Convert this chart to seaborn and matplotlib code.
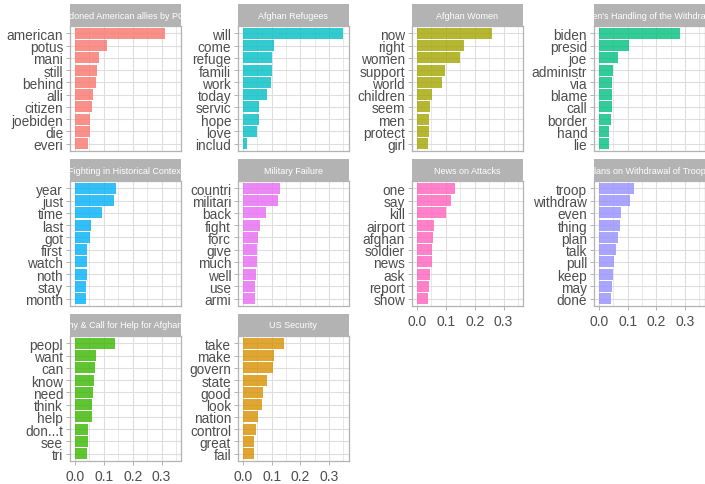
import matplotlib
matplotlib.use("Agg")
import matplotlib.pyplot as plt
from matplotlib.ticker import MultipleLocator, FormatStrFormatter
import seaborn as sns
import pandas as pd

# ---------------- data ----------------
topic_titles = [
    "Abandoned American allies by POTUS",
    "Afghan Refugees",
    "Afghan Women",
    "Biden's Handling of the Withdrawal",
    "Fighting in Historical Context",
    "Military Failure",
    "News on Attacks",
    "Plans on Withdrawal of Troops",
    "Sympathy & Call for Help for Afghan People",
    "US Security",
]
topic_colors = ["#F8766D", "#00BFC4", "#A3A500", "#00BF7D", "#00B0F6",
                "#E76BF3", "#FF62BC", "#9590FF", "#39B600", "#D89000"]

terms = [
    ["american", "potus", "mani", "still", "behind", "alli", "citizen", "joebiden", "die", "everi"],
    ["will", "come", "refuge", "famili", "work", "today", "servic", "hope", "love", "includ"],
    ["now", "right", "women", "support", "world", "children", "seem", "men", "protect", "girl"],
    ["biden", "presid", "joe", "administr", "via", "blame", "call", "border", "hand", "lie"],
    ["year", "just", "time", "last", "got", "first", "watch", "noth", "stay", "month"],
    ["countri", "militari", "back", "fight", "forc", "give", "much", "well", "use", "armi"],
    ["one", "say", "kill", "airport", "afghan", "soldier", "news", "ask", "report", "show"],
    ["troop", "withdraw", "even", "thing", "plan", "talk", "pull", "keep", "may", "done"],
    ["peopl", "want", "can", "know", "need", "think", "help", "don...t", "see", "tri"],
    ["take", "make", "govern", "state", "good", "look", "nation", "control", "great", "fail"],
]
betas = [
    [0.313, 0.110, 0.084, 0.075, 0.073, 0.062, 0.058, 0.052, 0.052, 0.044],
    [0.350, 0.107, 0.100, 0.100, 0.096, 0.082, 0.057, 0.054, 0.048, 0.013],
    [0.260, 0.162, 0.148, 0.096, 0.086, 0.051, 0.044, 0.041, 0.041, 0.037],
    [0.282, 0.104, 0.066, 0.049, 0.045, 0.045, 0.045, 0.042, 0.035, 0.035],
    [0.143, 0.136, 0.094, 0.056, 0.052, 0.042, 0.042, 0.042, 0.038, 0.038],
    [0.128, 0.121, 0.079, 0.058, 0.051, 0.048, 0.048, 0.044, 0.041, 0.041],
    [0.131, 0.117, 0.100, 0.058, 0.054, 0.051, 0.051, 0.044, 0.041, 0.037],
    [0.122, 0.108, 0.077, 0.073, 0.066, 0.059, 0.052, 0.049, 0.045, 0.042],
    [0.137, 0.072, 0.068, 0.065, 0.061, 0.058, 0.058, 0.044, 0.044, 0.040],
    [0.143, 0.108, 0.105, 0.084, 0.070, 0.067, 0.053, 0.046, 0.039, 0.039],
]
x_ticks = [0.0, 0.1, 0.2, 0.3]

rows = []
for t, ws, bs in zip(topic_titles, terms, betas):
    for w, b in zip(ws, bs):
        rows.append({"topic": t, "term": w, "beta": b})
df = pd.DataFrame(rows)

# ---------------- layout ----------------
sns.set_theme(style="white")
plt.rcParams["font.family"] = ["Liberation Sans", "DejaVu Sans"]

W, H = 705, 485
fig = plt.figure(figsize=(W / 100, H / 100), dpi=100)

def rect(x0, y0, x1, y1):
    return [x0 / W, 1 - y1 / H, (x1 - x0) / W, (y1 - y0) / H]

col_x = [(70, 181), (238, 348.5), (412, 523), (594, 704.5)]
row_y = [(5, 27, 152), (160, 182, 307), (315, 337, 462)]
GRID = "#DEDEDE"
BORDER = "#B3B3B3"
TXT = "#4D4D4D"
bottom_panels = {6, 7, 8, 9}

for i, title in enumerate(topic_titles):
    r, c = divmod(i, 4)
    x0, x1 = col_x[c]
    s0, p0, p1 = row_y[r]
    ax = fig.add_axes(rect(x0, p0, x1, p1))
    sub = df[df["topic"] == title]
    sns.barplot(data=sub, x="beta", y="term", order=terms[i], color=topic_colors[i],
                alpha=0.8, width=0.9, linewidth=0, saturation=1, ax=ax, orient="h", zorder=3)
    ax.set_xlim(-0.0175, 0.3675)
    ax.set_ylim(9.6, -0.6)
    ax.set_xlabel("")
    ax.set_ylabel("")
    ax.set_facecolor("white")
    ax.set_xticks(x_ticks)
    ax.xaxis.set_major_formatter(FormatStrFormatter("%.1f"))
    ax.xaxis.set_minor_locator(MultipleLocator(0.05))
    ax.set_axisbelow(True)
    ax.grid(True, which="major", axis="both", color=GRID, linewidth=0.8, zorder=0)
    ax.grid(True, which="minor", axis="x", color=GRID, linewidth=0.5, zorder=0)
    for sp in ax.spines.values():
        sp.set_visible(True)
        sp.set_color(BORDER)
        sp.set_linewidth(0.9)
    ax.tick_params(axis="y", which="major", length=2.75, width=0.7, color=BORDER,
                   labelsize=9.8, labelcolor=TXT, pad=2.2, left=True)
    ax.tick_params(axis="x", which="minor", length=0)
    if i in bottom_panels:
        ax.tick_params(axis="x", which="major", length=2.75, width=0.7, color=BORDER,
                       labelsize=10, labelcolor=TXT, pad=3, bottom=True)
    else:
        ax.tick_params(axis="x", which="major", length=0, labelbottom=False)

    # strip
    sax = fig.add_axes(rect(x0, s0, x1, p0))
    sax.set_facecolor(BORDER)
    sax.set_xticks([])
    sax.set_yticks([])
    for sp in sax.spines.values():
        sp.set_visible(False)
    sax.set_xlim(0, 1)
    sax.set_ylim(0, 1)
    sax.text(0.5, 0.5, title, ha="center", va="center", color="white",
             fontsize=6.5, clip_on=True)

fig.savefig("out.png", dpi=100)
